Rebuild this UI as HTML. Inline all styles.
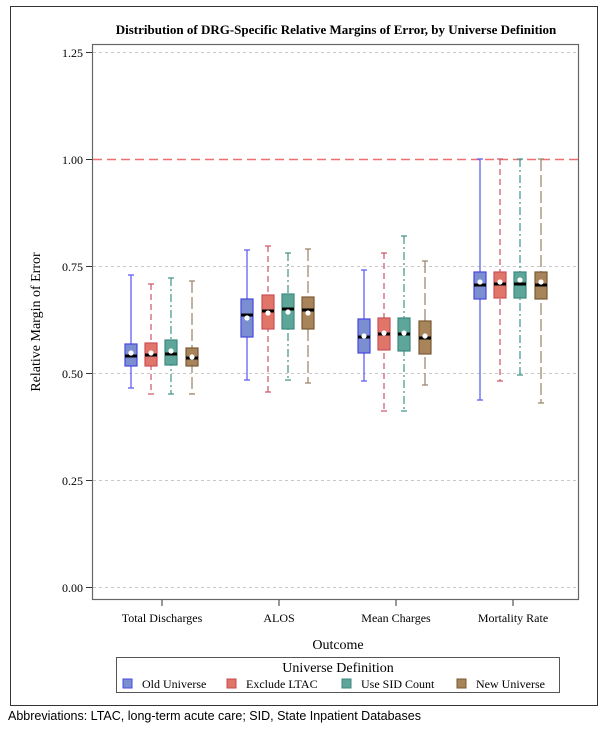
<!DOCTYPE html>
<html><head><meta charset="utf-8"><style>
body{margin:0;background:#fff;}
svg{display:block;font-family:"Liberation Serif",serif;}
</style></head><body>
<svg width="607" height="733" viewBox="0 0 607 733" xmlns="http://www.w3.org/2000/svg">
<rect x="10.5" y="6.5" width="587" height="699" fill="none" stroke="#333" stroke-width="1"/>
<text x="336" y="34" font-size="13" font-weight="bold" text-anchor="middle">Distribution of DRG-Specific Relative Margins of Error, by Universe Definition</text>
<g stroke="#c8c8c8" stroke-dasharray="3,3" stroke-width="1">
<line x1="93" x2="579" y1="52.5" y2="52.5"/>
<line x1="93" x2="579" y1="266.5" y2="266.5"/>
<line x1="93" x2="579" y1="373.5" y2="373.5"/>
<line x1="93" x2="579" y1="480.5" y2="480.5"/>
<line x1="93" x2="579" y1="587.5" y2="587.5"/>
</g>
<line x1="93" x2="579" y1="159.5" y2="159.5" stroke="#f07070" stroke-width="1.5" stroke-dasharray="9,5"/>
<rect x="92.5" y="44.5" width="486" height="555" fill="none" stroke="#666" stroke-width="1.2"/>
<g stroke="#333" stroke-width="1">
<line x1="86" x2="92" y1="52.5" y2="52.5"/><line x1="86" x2="92" y1="159.5" y2="159.5"/>
<line x1="86" x2="92" y1="266.5" y2="266.5"/><line x1="86" x2="92" y1="373.5" y2="373.5"/>
<line x1="86" x2="92" y1="480.5" y2="480.5"/><line x1="86" x2="92" y1="587.5" y2="587.5"/>
<line x1="162" x2="162" y1="600" y2="606"/><line x1="279" x2="279" y1="600" y2="606"/>
<line x1="396" x2="396" y1="600" y2="606"/><line x1="513" x2="513" y1="600" y2="606"/>
</g>
<g font-size="12" text-anchor="end">
<text x="83" y="57">1.25</text><text x="83" y="164">1.00</text><text x="83" y="271">0.75</text>
<text x="83" y="378">0.50</text><text x="83" y="485">0.25</text><text x="83" y="592">0.00</text>
</g>
<g font-size="12" text-anchor="middle">
<text x="162" y="622">Total Discharges</text><text x="279" y="622">ALOS</text>
<text x="396" y="622">Mean Charges</text><text x="513" y="622">Mortality Rate</text>
</g>
<text x="338" y="649" font-size="14" text-anchor="middle">Outcome</text>
<text transform="translate(40,322) rotate(-90)" font-size="14" text-anchor="middle">Relative Margin of Error</text>
<g id="boxes"></g>
<rect x="116.5" y="657.5" width="443" height="35" fill="#fff" stroke="#555"/>
<text x="338" y="672" font-size="14" text-anchor="middle">Universe Definition</text>
<g font-size="12">
<rect x="123" y="679" width="9" height="9" fill="#7b8fd0" stroke="#4848e0"/><text x="142" y="688">Old Universe</text>
<rect x="227" y="679" width="9" height="9" fill="#e0756a" stroke="#c84850"/><text x="246" y="688">Exclude LTAC</text>
<rect x="342" y="679" width="9" height="9" fill="#5ea59a" stroke="#3c8a80"/><text x="361" y="688">Use SID Count</text>
<rect x="457" y="679" width="9" height="9" fill="#a7845a" stroke="#7a5a34"/><text x="476" y="688">New Universe</text>
</g>
<text x="8" y="720" font-family="Liberation Sans,sans-serif" font-size="12.5">Abbreviations: LTAC, long-term acute care; SID, State Inpatient Databases</text>
</svg>
<script>
var S=[
 {f:"#7b8fd0",s:"#4848e0",w:"#6060f0",d:""},
 {f:"#e0756a",s:"#cc5058",w:"#d06070",d:"6,4"},
 {f:"#5ea59a",s:"#3c8a80",w:"#4a9a90",d:"8,3,2,3"},
 {f:"#a7845a",s:"#7a5a34",w:"#a08870",d:"12,4"}];
var D=[
 [131,275,388,344,366,356,353],[151,284,394,343,366,355,353],[171,278,394,340,365,354,351],[192,281,394,348,366,358,357],
 [247,250,380,299,337,315,318],[268,246,392,295,329,311,313],[288,253,380,294,329,309,312],[308,249,383,297,329,310,313],
 [364,270,381,319,353,337,336],[384,253,411,318,350,334,333],[404,236,411,318,351,334,333],[425,261,385,321,354,338,336],
 [480,159,400,272,299,285,282],[500,159,381,272,298,284,282],[520,159,375,272,298,284,280],[541,159,403,272,299,285,282]];
var h="";
D.forEach(function(b,i){var s=S[i%4],c=b[0],da=s.d?' stroke-dasharray="'+s.d+'"':'';
h+='<line x1="'+c+'" x2="'+c+'" y1="'+b[1]+'" y2="'+b[2]+'" stroke="'+s.w+'" stroke-width="1.3"'+da+'/>';
h+='<line x1="'+(c-3)+'" x2="'+(c+3)+'" y1="'+b[1]+'" y2="'+b[1]+'" stroke="'+s.w+'" stroke-width="1.3"/>';
h+='<line x1="'+(c-3)+'" x2="'+(c+3)+'" y1="'+b[2]+'" y2="'+b[2]+'" stroke="'+s.w+'" stroke-width="1.3"/>';
h+='<rect x="'+(c-6)+'" y="'+b[3]+'" width="12" height="'+(b[4]-b[3])+'" fill="'+s.f+'" stroke="'+s.s+'" stroke-width="1.2"/>';
h+='<line x1="'+(c-6)+'" x2="'+(c+6)+'" y1="'+b[5]+'" y2="'+b[5]+'" stroke="#000" stroke-width="3"/>';
h+='<circle cx="'+c+'" cy="'+b[6]+'" r="2.6" fill="#fff"/>';});
document.getElementById("boxes").innerHTML=h;
</script>
</body></html>
